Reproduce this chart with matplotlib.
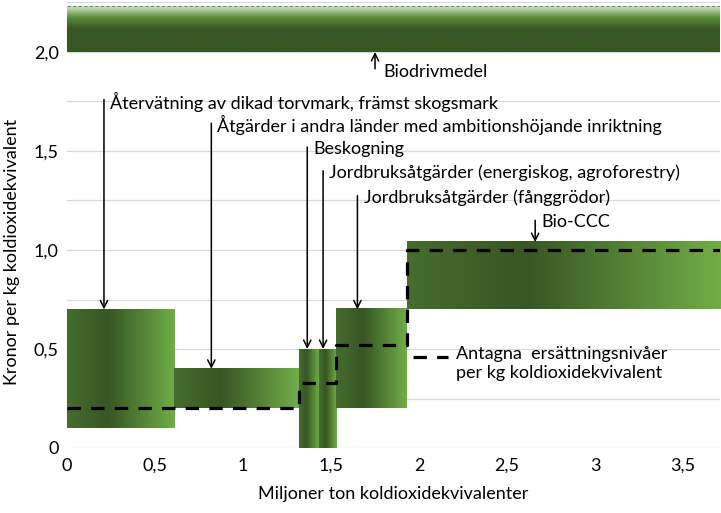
import numpy as np
import matplotlib
matplotlib.use("Agg")
import matplotlib.pyplot as plt
from matplotlib.colors import LinearSegmentedColormap
from matplotlib.lines import Line2D

plt.rcParams['font.family'] = ['Lato', 'DejaVu Sans']

# Abatement measures: x-extent (million tonnes CO2e) and cost range (SEK/kg CO2e)
measures = [
    "Återvätning av dikad torvmark, främst skogsmark",
    "Åtgärder i andra länder med ambitionshöjande inriktning",
    "Beskogning",
    "Jordbruksåtgärder (energiskog, agroforestry)",
    "Jordbruksåtgärder (fånggrödor)",
    "Bio-CCC",
]
x_start = [0.00, 0.61, 1.32, 1.43, 1.53, 1.93]
x_end = [0.61, 1.32, 1.43, 1.53, 1.93, 3.71]
cost_low = [0.10, 0.20, 0.00, 0.00, 0.20, 0.70]
cost_high = [0.70, 0.40, 0.50, 0.50, 0.70, 1.04]

# Biofuel band at the top
bio_label = "Biodrivmedel"
bio_low, bio_high = 2.00, 2.23

# Assumed compensation levels (step line)
step_x = [0.00, 1.32, 1.53, 1.93, 3.71]
step_y = [0.20, 0.33, 0.52, 1.00, 1.00]
step_label = "Antagna  ersättningsnivåer\nper kg koldioxidekvivalent"

# Label placement for each measure: arrow x, text y
arrow_x = [0.21, 0.82, 1.365, 1.455, 1.65, 2.66]
label_y = [1.75, 1.63, 1.51, 1.39, 1.265, 1.14]

xlim = (0, 3.71)
ylim = (0, 2.25)

fig = plt.figure(figsize=(7.21, 5.13), dpi=100)
ax = fig.add_axes([67 / 721, 65 / 513, 653 / 721, 445.5 / 513])

# Gridlines
for yv in np.arange(0, 2.26, 0.25):
    ax.axhline(yv, color="#d9d9d9", lw=0.9, zorder=0)

dark = "#375623"
light = "#70ad47"
hcmap = LinearSegmentedColormap.from_list(
    "green_h", [(0.0, "#466c2e"), (0.38, dark), (1.0, light)])
grad = np.linspace(0, 1, 256).reshape(1, -1)

for x0, x1, lo, hi in zip(x_start, x_end, cost_low, cost_high):
    ax.imshow(grad, cmap=hcmap, aspect="auto", extent=(x0, x1, lo, hi),
              origin="lower", zorder=2, interpolation="bilinear")

vcmap = LinearSegmentedColormap.from_list(
    "green_v", [(0.0, dark), (0.5, dark), (0.75, "#5a8d3a"), (1.0, "#d3e7c6")])
vgrad = np.linspace(0, 1, 256).reshape(-1, 1)
ax.imshow(vgrad, cmap=vcmap, aspect="auto", extent=(xlim[0], xlim[1], bio_low, bio_high),
          origin="lower", zorder=2, interpolation="bilinear")
ax.plot([xlim[0], xlim[1]], [bio_high, bio_high], color="#7f7f7f", lw=0.8,
        ls=(0, (3, 2)), zorder=3)

# Step line
step_dashes = (4.2, 3.2)
ax.plot(step_x, step_y, drawstyle="steps-post", color="black", lw=2.3,
        dashes=step_dashes, zorder=4)

fs = 13
arrow_kw = dict(arrowstyle="->", color="black", lw=1.1, shrinkA=0, shrinkB=0,
                mutation_scale=13)
for name, ax_x, ty, hi in zip(measures, arrow_x, label_y, cost_high):
    ax.annotate("", xy=(ax_x, hi), xytext=(ax_x, ty + 0.01),
                arrowprops=arrow_kw, zorder=5)
    ax.text(ax_x + 0.035, ty, name, fontsize=fs, va="center", ha="left", zorder=5)

# Biofuel arrow pointing up
ax.annotate("", xy=(1.75, bio_low), xytext=(1.75, 1.915),
            arrowprops=arrow_kw, zorder=5)
ax.text(1.80, 1.90, bio_label, fontsize=fs, va="center", ha="left")

# Key for the step line, sample aligned with the first text line
key_y = 0.204
ax.add_line(Line2D([0.530, 0.583], [key_y, key_y], transform=ax.transAxes,
                   color="black", lw=2.3, dashes=step_dashes, clip_on=False))
ax.text(0.596, key_y + 0.026, step_label, transform=ax.transAxes, fontsize=fs,
        va="top", ha="left", linespacing=1.25)

ax.set_xlim(*xlim)
ax.set_ylim(*ylim)

yt = np.arange(0, 2.26, 0.25)
ax.set_yticks(yt)
ylabels = []
for v in yt:
    if abs(v * 2 - round(v * 2)) > 1e-9:
        ylabels.append("")
    elif v == 0:
        ylabels.append("0")
    else:
        ylabels.append(f"{v:.1f}".replace(".", ","))
ax.set_yticklabels(ylabels, fontsize=fs)

xt = np.arange(0, 3.6, 0.5)
ax.set_xticks(xt)
ax.set_xticklabels([(f"{v:g}").replace(".", ",") for v in xt], fontsize=fs)
ax.tick_params(length=0, pad=7)
ax.tick_params(axis="y", pad=6)

for s in ax.spines.values():
    s.set_visible(False)

ax.set_xlabel("Miljoner ton koldioxidekvivalenter", fontsize=fs)
ax.xaxis.set_label_coords(0.5, -0.085)
ax.set_ylabel("Kronor per kg koldioxidekvivalent", fontsize=fs)
ax.yaxis.set_label_coords(-0.072, 0.44)

fig.savefig("out.png", dpi=100)
